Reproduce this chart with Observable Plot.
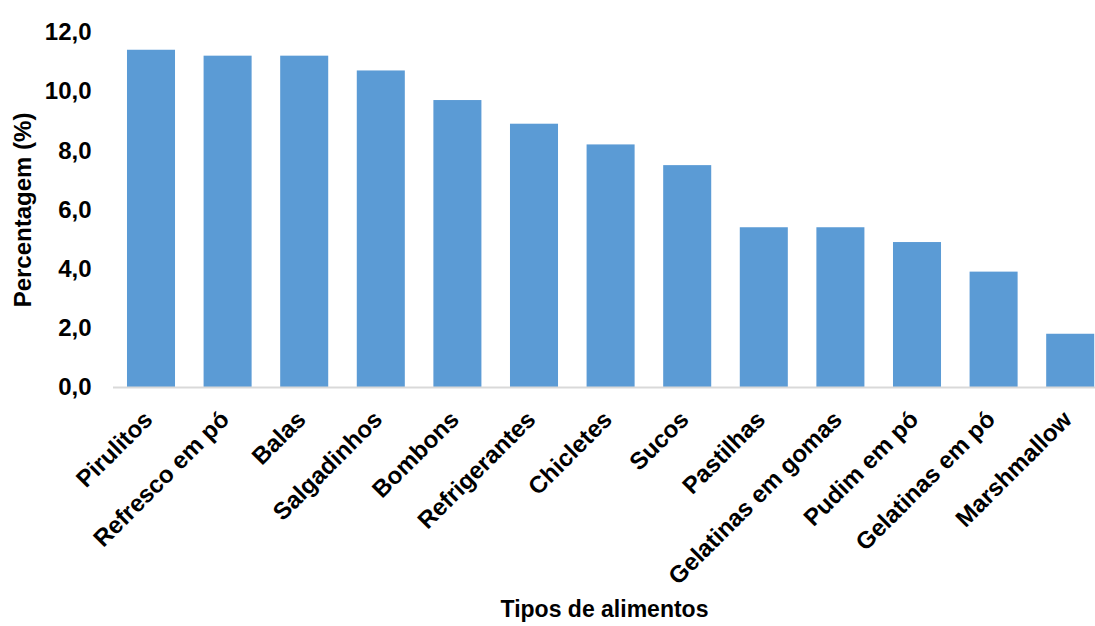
<!DOCTYPE html>
<html>
<head>
<meta charset="utf-8">
<script src="https://cdn.jsdelivr.net/npm/d3@7"></script>
<script src="https://cdn.jsdelivr.net/npm/@observablehq/plot@0.6"></script>
<style>
  html, body { margin: 0; padding: 0; background: #fff; overflow: hidden; }
  #chart svg { overflow: hidden; }
</style>
</head>
<body>
<div id="chart"></div>
<script>
const categories = ["Pirulitos", "Refresco em pó", "Balas", "Salgadinhos", "Bombons", "Refrigerantes", "Chicletes", "Sucos", "Pastilhas", "Gelatinas em gomas", "Pudim em pó", "Gelatinas em pó", "Marshmallow"];
const values = [11.4, 11.2, 11.2, 10.7, 9.7, 8.9, 8.2, 7.5, 5.4, 5.4, 4.9, 3.9, 1.8];
const yTicks = [0, 2, 4, 6, 8, 10, 12];
const yLabel = "Percentagem (%)";
const xLabel = "Tipos de alimentos";

const data = categories.map((c, i) => ({category: c, value: values[i]}));
const font = "'Liberation Sans', Arial, sans-serif";

const chart = Plot.plot({
  width: 1095,
  height: 626,
  marginLeft: 113,
  marginRight: 0,
  marginTop: 32,
  marginBottom: 239,
  style: {fontFamily: font, fontSize: "23px", fontWeight: "bold", color: "#000", background: "#fff"},
  x: {type: "band", domain: categories, range: [112.7, 1108.5], paddingInner: 0.373, paddingOuter: 0.1865, round: false},
  y: {domain: [0, 12]},
  marks: [
    Plot.barY(data, {x: "category", y: "value", fill: "#5B9BD5"}),
    Plot.ruleY([0], {stroke: "#D9D9D9", strokeWidth: 2}),
    Plot.axisY({ticks: yTicks, tickSize: 0, tickPadding: 22, tickFormat: d => d.toFixed(1).replace(".", ","), label: null, fontSize: 24, fontWeight: "bold"}),
    Plot.axisX({tickSize: 0, tickRotate: -45, tickPadding: 28, dx: -3, label: null, fontSize: 24, fontWeight: "bold"}),
    Plot.text([yLabel], {frameAnchor: "left", textAnchor: "middle", rotate: -90, dx: -90, fontSize: 24, fontWeight: "bold"}),
    Plot.text([xLabel], {frameAnchor: "bottom", dy: 229, fontSize: 23, fontWeight: "bold"})
  ]
});
document.getElementById("chart").appendChild(chart);
</script>
</body>
</html>
